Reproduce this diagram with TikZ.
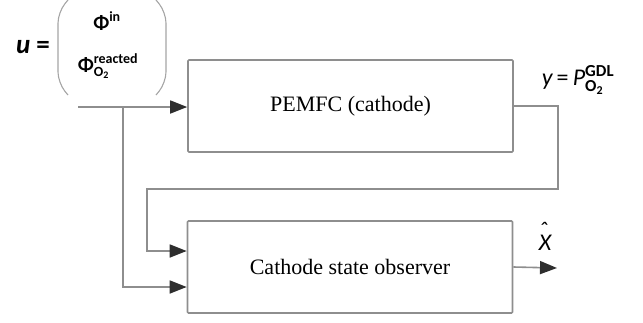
\documentclass[tikz,border=0pt]{standalone}
\usepackage{amsmath}
\usepackage{fontspec}
\setmainfont{Liberation Serif}
\newfontfamily\lblfont{Carlito}
\usetikzlibrary{arrows.meta,positioning}
\definecolor{wire}{HTML}{8E8E8E}
\definecolor{tip}{HTML}{2E2E2E}
\tikzset{
  blk/.style={draw=wire,line width=1.6pt,rounded corners=1pt,minimum width=325pt,minimum height=92pt,inner sep=0pt,font={\fontsize{22}{26}\selectfont}},
  sig/.style={draw=wire,line width=1.6pt},
  sigarr/.style={sig,-{Triangle[length=17pt,width=13pt,color=tip]}},
  paren/.style={draw=wire!80,line width=1.1pt,rounded corners=11pt},
  lbl/.style={inner sep=0pt,font={\lblfont\fontsize{20}{24}\selectfont}},
  biglbl/.style={inner sep=0pt,font={\lblfont\fontsize{24}{28}\selectfont}}
}

\begin{document}
\begin{tikzpicture}[x=1pt,y=-1pt]
\useasboundingbox (0,0) rectangle (643,322);
% blocks
\node[blk] (plant) at (350.5,106) {PEMFC (cathode)};
\node[blk] (obs) at (350,267) {Cathode state observer};
% input vector u
\node[biglbl,font={\lblfont\fontsize{27}{30}\selectfont}] (ueq) at (33,47) {\bfseries\itshape u \upshape=};
\node[lbl] (phiin) at (107,21) {$\text{\bfseries Φ}^{\text{\bfseries in}}$};
\node[lbl] (phire) at (108,66) {$\text{\bfseries Φ}^{\text{\bfseries reacted}}_{\text{\bfseries O}_{\text{\bfseries 2}}}$};
\draw[paren] (68,0) -- (58,12) -- (58,83) -- (68,95);
\draw[paren] (156,0) -- (166,12) -- (166,83) -- (156,95);
\coordinate (uin) at (78,107);
\coordinate (ubr) at (123,107);
\draw[sigarr] (uin) -- (uin -| plant.west);
\draw[sigarr] (ubr) |- ([yshift=-20pt]obs.west);
% measured output fed back
\coordinate (fbk) at (147,189);
\draw[sigarr] (plant.east) -- ++(44,0) |- (fbk) |- ([yshift=16pt]obs.west);
\node[biglbl] (ylbl) at (578,80) {$\text{\itshape y}\,\text{=}\,\text{\itshape P}^{\text{\bfseries GDL}}_{\text{\bfseries O}_{\text{\bfseries 2}}}$};
% estimate
\coordinate (xout) at (557,268);
\draw[sigarr] (obs.east) -- (xout);
\node[biglbl] (xhat) at (545,236) {\itshape X\llap{\raisebox{0.5em}{ˆ\hspace{0.12em}}}};
\end{tikzpicture}
\end{document}
